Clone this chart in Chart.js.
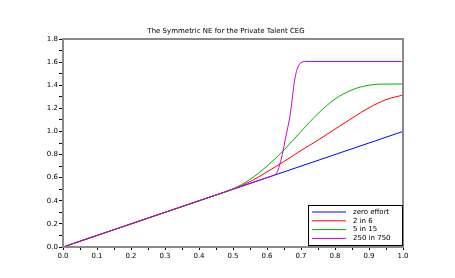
<!DOCTYPE html>
<html>
<head>
<meta charset="utf-8">
<script src="https://cdn.jsdelivr.net/npm/chart.js@4.4.0/dist/chart.umd.min.js"></script>
<style>
  html, body { margin: 0; padding: 0; background: #fff; }
  #wrap { width: 455px; height: 278px; position: relative; }
</style>
</head>
<body>
<div id="wrap"><canvas id="chart"></canvas></div>
<script>
// --- data ---
const chartTitle = 'The Symmetric NE for the Private Talent CEG';
const seriesNames = ['zero effort', '2 in 6', '5 in 15', '250 in 750'];
const seriesColors = ['#0000ff', '#ff0000', '#00b000', '#cc00cc'];

const zeroX = [0, 1];
const zeroY = [0, 1];

const smallX = [0, 0.2, 0.4, 0.45, 0.5, 0.55, 0.6, 0.65, 0.7, 0.75, 0.8, 0.85, 0.9, 0.95, 1.0];
const smallY = [0, 0.2, 0.4, 0.45, 0.502, 0.565, 0.65, 0.74, 0.835, 0.925, 1.02, 1.115, 1.205, 1.275, 1.315];

const midX = [0, 0.2, 0.4, 0.45, 0.5, 0.55, 0.6, 0.65, 0.7, 0.75, 0.8, 0.85, 0.9, 0.95, 1.0];
const midY = [0, 0.2, 0.4, 0.45, 0.503, 0.585, 0.70, 0.84, 1.0, 1.155, 1.28, 1.36, 1.40, 1.41, 1.41];

const bigX = [0, 0.2, 0.4, 0.6, 0.615, 0.62, 0.625, 0.63, 0.635, 0.64, 0.645, 0.65, 0.655, 0.66, 0.665, 0.67, 0.675, 0.68, 0.685, 0.69, 0.695, 0.70, 0.71, 0.8, 1.0];
const bigY = [0, 0.2, 0.4, 0.6, 0.615, 0.621, 0.63, 0.65, 0.69, 0.74, 0.80, 0.87, 0.95, 1.02, 1.09, 1.18, 1.30, 1.42, 1.50, 1.55, 1.58, 1.595, 1.605, 1.605, 1.605];

const xTicks = [0, 1, 0.05];   // min, max, step
const yTicks = [0, 1.8, 0.1];

const toPts = (xs, ys) => xs.map((x, i) => ({ x: x, y: ys[i] }));

const seriesX = [zeroX, smallX, midX, bigX];
const seriesY = [zeroY, smallY, midY, bigY];

const FONT = 'DejaVu Sans';
const AXIS_GREY = '#8a8a8a';

// frame on all four sides + legend box inside the plot + title
const framePlugin = {
  id: 'frame',
  afterDraw(chart) {
    const ctx = chart.ctx;
    const a = chart.chartArea;
    ctx.save();
    ctx.strokeStyle = AXIS_GREY;
    ctx.lineWidth = 2;
    ctx.strokeRect(a.left, a.top, a.right - a.left, a.bottom - a.top);

    // title
    ctx.fillStyle = '#000';
    ctx.font = '7px "' + FONT + '"';
    ctx.textAlign = 'center';
    ctx.textBaseline = 'middle';
    ctx.fillText(chartTitle, 226, 31);

    // legend
    const bx = 308.5, by = 205.5, bw = 94, bh = 40;
    ctx.fillStyle = '#fff';
    ctx.fillRect(bx, by, bw, bh);
    ctx.strokeStyle = '#000';
    ctx.lineWidth = 1;
    ctx.strokeRect(bx, by, bw, bh);
    ctx.textAlign = 'left';
    seriesNames.forEach((name, i) => {
      const yy = 212 + i * 8.8;
      ctx.strokeStyle = seriesColors[i];
      ctx.beginPath();
      ctx.moveTo(312, yy);
      ctx.lineTo(346, yy);
      ctx.stroke();
      ctx.fillStyle = '#000';
      ctx.fillText(name, 353, yy);
    });
    ctx.restore();
  }
};

new Chart(document.getElementById('chart'), {
  type: 'line',
  data: {
    datasets: seriesNames.map((name, i) => ({
      label: name,
      data: toPts(seriesX[i], seriesY[i]),
      borderColor: seriesColors[i],
      borderWidth: 1,
      pointRadius: 0,
      cubicInterpolationMode: 'monotone',
      order: seriesNames.length - i,   // last series on top, like the original
      fill: false
    }))
  },
  options: {
    responsive: true,
    maintainAspectRatio: false,
    animation: false,
    layout: { padding: { top: 39, right: 52, left: 0, bottom: 0 } },
    plugins: {
      legend: { display: false },
      title: { display: false },
      tooltip: { enabled: false }
    },
    scales: {
      x: {
        type: 'linear',
        min: xTicks[0], max: xTicks[1],
        afterFit: (s) => { s.height = 31; },
        border: { color: AXIS_GREY, width: 2 },
        grid: { drawOnChartArea: false, drawTicks: true, tickLength: 3, color: '#000' },
        ticks: {
          stepSize: xTicks[2],
          autoSkip: false,
          maxRotation: 0,
          padding: 2,
          color: '#000',
          font: { family: FONT, size: 7 },
          callback: (v, i) => (i % 2 === 0 ? Number(v).toFixed(1) : '')
        }
      },
      y: {
        type: 'linear',
        min: yTicks[0], max: yTicks[1],
        afterFit: (s) => { s.width = 63; },
        border: { color: AXIS_GREY, width: 2 },
        grid: { drawOnChartArea: false, drawTicks: true, tickLength: 4, color: '#000' },
        ticks: {
          stepSize: yTicks[2],
          autoSkip: false,
          padding: 1,
          color: '#000',
          font: { family: FONT, size: 7 },
          callback: (v, i) => (i % 2 === 0 ? Number(v).toFixed(1) : '')
        }
      }
    }
  },
  plugins: [framePlugin]
});
</script>
</body>
</html>
